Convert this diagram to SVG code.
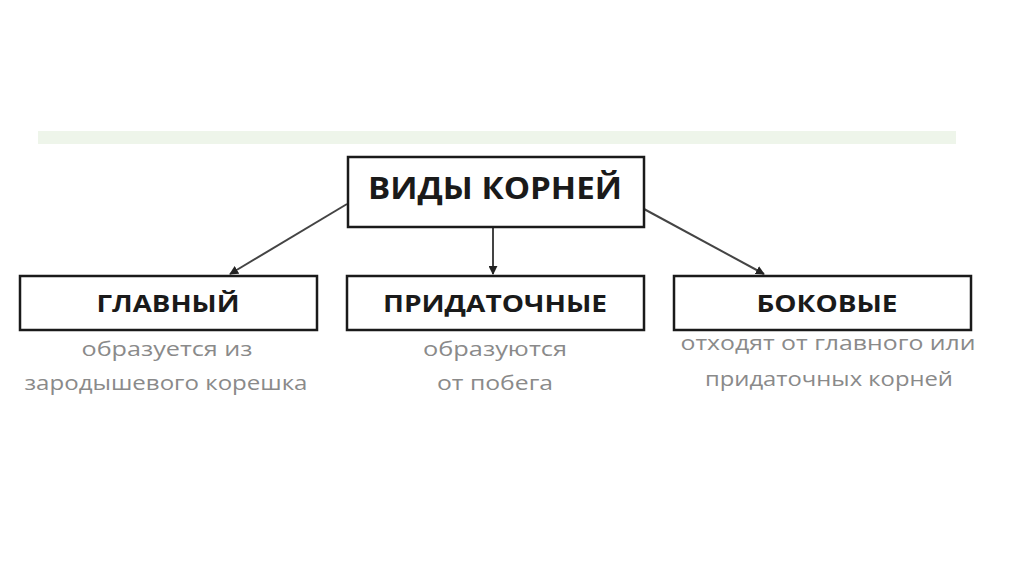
<svg xmlns="http://www.w3.org/2000/svg" width="1024" height="574" viewBox="0 0 1024 574">
<style>
.box{fill:#fff;stroke:#1a1a1a;stroke-width:2.5}
.title{font-family:"Open Sans","Liberation Sans",sans-serif;font-weight:700;fill:#1a1a1a;text-anchor:middle}
.desc{font-family:"Open Sans","Liberation Sans",sans-serif;font-size:20px;fill:#8a8a8a;text-anchor:middle}
.conn{stroke:#444;stroke-width:2;fill:none;marker-end:url(#ah)}
</style>
<defs>
<marker id="ah" viewBox="0 0 10 10" refX="9" refY="5" markerWidth="4.5" markerHeight="4.5" orient="auto" markerUnits="strokeWidth">
<path d="M0,0 L10,5 L0,10 z" fill="#222"/>
</marker>
</defs>
<rect width="1024" height="574" fill="#fff"/>
<rect x="38" y="131" width="918" height="13" fill="#eef5ea"/>
<g id="connectors">
<line class="conn" x1="347" y1="204" x2="230" y2="274"/>
<line class="conn" x1="493" y1="228" x2="493" y2="274"/>
<line class="conn" x1="644" y1="209" x2="764" y2="274"/>
</g>
<g id="root">
<rect class="box" x="348" y="157" width="296" height="70"/>
<text class="title" x="495" y="199" font-size="31" textLength="254" lengthAdjust="spacingAndGlyphs">ВИДЫ КОРНЕЙ</text>
</g>
<g id="main">
<rect class="box" x="20" y="276" width="297" height="54"/>
<text class="title" x="168" y="312" font-size="24" textLength="143" lengthAdjust="spacingAndGlyphs">ГЛАВНЫЙ</text>
<text class="desc" x="167" y="356" textLength="171" lengthAdjust="spacingAndGlyphs">образуется из</text>
<text class="desc" x="166" y="390" textLength="283" lengthAdjust="spacingAndGlyphs">зародышевого корешка</text>
</g>
<g id="adventitious">
<rect class="box" x="347" y="276" width="297" height="54"/>
<text class="title" x="495" y="312" font-size="24" textLength="224" lengthAdjust="spacingAndGlyphs">ПРИДАТОЧНЫЕ</text>
<text class="desc" x="495" y="356" textLength="144" lengthAdjust="spacingAndGlyphs">образуются</text>
<text class="desc" x="495" y="390" textLength="116" lengthAdjust="spacingAndGlyphs">от побега</text>
</g>
<g id="lateral">
<rect class="box" x="674" y="276" width="297" height="54"/>
<text class="title" x="827" y="312" font-size="24" textLength="141" lengthAdjust="spacingAndGlyphs">БОКОВЫЕ</text>
<text class="desc" x="828" y="350" textLength="295" lengthAdjust="spacingAndGlyphs">отходят от главного или</text>
<text class="desc" x="829" y="386" textLength="248" lengthAdjust="spacingAndGlyphs">придаточных корней</text>
</g>
</svg>
